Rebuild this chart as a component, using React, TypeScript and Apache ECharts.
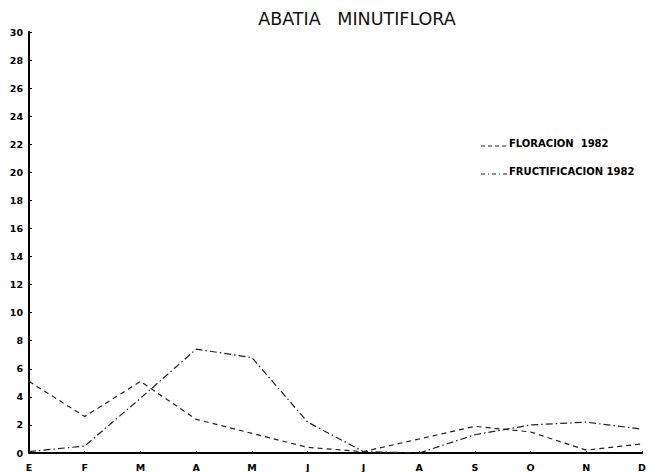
import React, { useEffect, useRef } from "react";
import * as echarts from "echarts";

const months = ["E", "F", "M", "A", "M", "J", "J", "A", "S", "O", "N", "D"];
const floracion = [5.1, 2.6, 5.1, 2.4, 1.4, 0.4, 0.1, 1.0, 1.9, 1.5, 0.2, 0.65];
const fructificacion = [0.1, 0.5, 3.9, 7.4, 6.8, 2.2, 0.1, 0.0, 1.3, 2.0, 2.2, 1.7];
const yTicks = { min: 0, max: 30, interval: 2 };

export default function App() {
  const ref = useRef<HTMLDivElement>(null);
  useEffect(() => {
    if (!ref.current) return;
    const chart = echarts.init(ref.current, undefined, { renderer: "svg" });
    const font = "DejaVu Sans, Verdana, sans-serif";
    chart.setOption({
      animation: false,
      backgroundColor: "#ffffff",
      title: {
        text: "ABATIA   MINUTIFLORA",
        left: 352,
        textAlign: "center",
        top: 5,
        textStyle: {
          fontFamily: font,
          fontSize: 17.5,
          fontWeight: "normal",
          color: "#111",
        },
      },
      grid: { left: 29, right: 2, top: 32, bottom: 19, containLabel: false },
      xAxis: {
        type: "category",
        data: months,
        boundaryGap: false,
        axisLine: { lineStyle: { color: "#000", width: 2 } },
        axisTick: { show: true, inside: true, length: 2, lineStyle: { color: "#000" } },
        axisLabel: {
          interval: 0,
          fontFamily: font,
          fontWeight: "bold",
          fontSize: 9.5,
          color: "#000",
          margin: 9,
        },
        splitLine: { show: false },
      },
      yAxis: {
        type: "value",
        min: yTicks.min,
        max: yTicks.max,
        interval: yTicks.interval,
        axisLine: { show: true, lineStyle: { color: "#000", width: 2 } },
        axisTick: { show: true, inside: true, length: 3, lineStyle: { color: "#000" } },
        axisLabel: {
          fontFamily: font,
          fontWeight: "bold",
          fontSize: 9.5,
          color: "#000",
          margin: 6,
        },
        splitLine: { show: false },
      },
      graphic: [
        {
          type: "line",
          shape: { x1: 481, y1: 146, x2: 508, y2: 146 },
          style: { stroke: "#222", lineWidth: 1.2, lineDash: [4, 3] },
        },
        {
          type: "text",
          x: 509,
          y: 143,
          style: {
            text: "FLORACION  1982",
            fontFamily: font,
            fontWeight: "bold",
            fontSize: 10,
            fill: "#000",
            verticalAlign: "middle",
          },
        },
        {
          type: "line",
          shape: { x1: 481, y1: 174, x2: 508, y2: 174 },
          style: { stroke: "#222", lineWidth: 1.2, lineDash: [4, 3, 1, 3] },
        },
        {
          type: "text",
          x: 509,
          y: 171,
          style: {
            text: "FRUCTIFICACION 1982",
            fontFamily: font,
            fontWeight: "bold",
            fontSize: 10,
            fill: "#000",
            verticalAlign: "middle",
          },
        },
      ],
      series: [
        {
          name: "FLORACION 1982",
          type: "line",
          data: floracion,
          showSymbol: false,
          symbol: "none",
          lineStyle: { color: "#222", width: 1.2, type: [5, 4] },
        },
        {
          name: "FRUCTIFICACION 1982",
          type: "line",
          data: fructificacion,
          showSymbol: false,
          symbol: "none",
          lineStyle: { color: "#222", width: 1.2, type: [7, 3, 1.5, 3] },
        },
      ],
    });
    return () => chart.dispose();
  }, []);
  return (
    <div
      ref={ref}
      style={{ position: "fixed", left: 0, top: 0, width: 649, height: 472 }}
    />
  );
}
